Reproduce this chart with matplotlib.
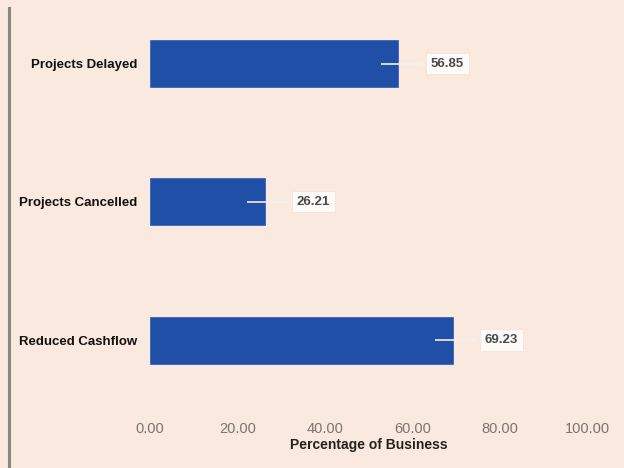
import matplotlib
matplotlib.use("Agg")
import matplotlib.pyplot as plt
from matplotlib.lines import Line2D

categories = ["Projects Delayed", "Projects Cancelled", "Reduced Cashflow"]
values = [56.85, 26.21, 69.23]
value_labels = ["56.85", "26.21", "69.23"]
xticks = [0, 20, 40, 60, 80, 100]
xtick_labels = ["0.00", "20.00", "40.00", "60.00", "80.00", "100.00"]

bg = "#f9e9de"
bar_color = "#1f4fa6"

plt.rcParams["font.family"] = ["Liberation Sans", "DejaVu Sans"]

fig = plt.figure(figsize=(6.24, 4.68), dpi=100, facecolor=bg)
W, H = 624, 468
left_px, right_px, top_px, bottom_px = 150, 587, 0, 405
ax = fig.add_axes([left_px / W, 1 - bottom_px / H,
                   (right_px - left_px) / W, (bottom_px - top_px) / H])
ax.set_facecolor(bg)

pos = list(range(len(categories)))
ax.barh(pos, values, height=0.34, color=bar_color, edgecolor="#3a64b8", linewidth=0.6)

for y, v, lab in zip(pos, values, value_labels):
    ax.plot([v - 4, v + 5.5], [y, y], color="#f4f0f0", lw=1.2, solid_capstyle="butt", zorder=3)
    ax.text(v + 11.2, y, lab, ha="center", va="center", fontsize=9.5, fontweight="bold",
            color="#4a4a4a",
            bbox=dict(boxstyle="square,pad=0.35", fc="#fdfaf7", ec="#f0e6de", lw=0.6),
            zorder=4)

ax.set_xlim(0, 100)
ax.set_ylim(2.47, -0.46)
ax.set_yticks(pos)
ax.set_yticklabels(categories, fontsize=9.5, fontweight="bold", color="#111111")
ax.set_xticks(xticks)
ax.set_xticklabels(xtick_labels, fontsize=10.5, color="#7a7470")
ax.tick_params(axis="both", length=0)
ax.tick_params(axis="x", pad=12)
ax.tick_params(axis="y", pad=9)
ax.set_xlabel("Percentage of Business", fontsize=10, fontweight="bold", color="#222222", labelpad=2)
for s in ax.spines.values():
    s.set_visible(False)

# left border rule
fig.add_artist(Line2D([9 / W, 9 / W], [0, 1 - 8 / H], transform=fig.transFigure,
                      color="#8c8682", lw=2.2))

fig.savefig("out.png", dpi=100, facecolor=bg)
